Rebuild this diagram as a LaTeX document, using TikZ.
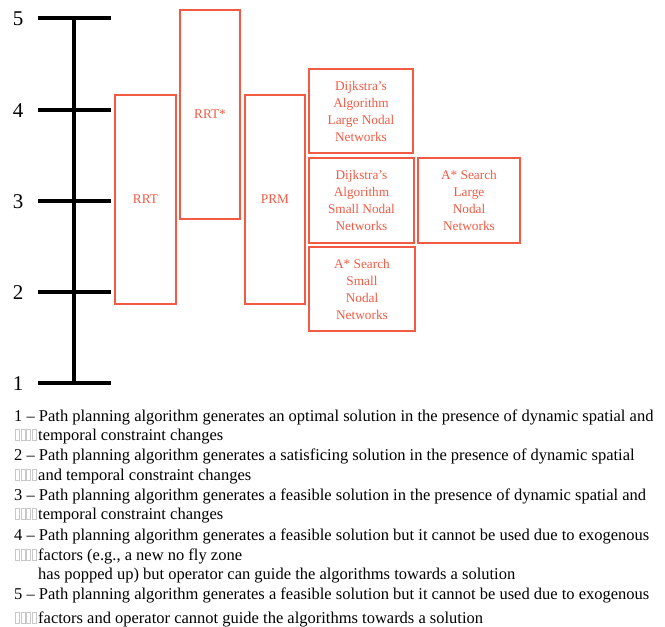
\documentclass[tikz,border=0pt]{standalone}
\usepackage{fontspec}
\setmainfont{Liberation Serif}
\begin{document}
\definecolor{algred}{RGB}{242,90,68}
\definecolor{tofu}{RGB}{200,200,200}
\tikzset{
  algbox/.style={draw=algred, line width=1.3pt, text=algred, align=center,
    inner sep=0pt, font=\fontsize{13.3}{17}\selectfont},
  axisline/.style={line width=3.6pt, black},
  levellabel/.style={font=\fontsize{21}{21}\selectfont, anchor=center},
  legend/.style={anchor=base west, inner sep=0pt, font=\fontsize{16.5}{18}\selectfont},
  tofubox/.style={draw=tofu, line width=0.5pt}
}
\begin{tikzpicture}[x=1pt, y=-1pt]
\useasboundingbox (0,0) rectangle (665,627);

% scale
\coordinate (top) at (74,18);
\coordinate (bot) at (74,383);
\draw[axisline] (top) -- (bot);
\foreach \lv/\yy in {5/18, 4/110, 3/201, 2/292, 1/383} {
  \coordinate (tl\lv) at (38,\yy);
  \coordinate (tr\lv) at (111,\yy);
  \draw[axisline] (tl\lv) -- (tr\lv);
  \node[levellabel] (lab\lv) at (18,\yy+1) {\lv};
}

% algorithm ranges
\node[algbox, minimum width=61pt, minimum height=209pt] (rrt) at (145.5,199.5) {RRT};
\node[algbox, minimum width=60pt, minimum height=209pt] (rrts) at (210,114.5) {RRT*};
\node[algbox, minimum width=60pt, minimum height=209pt] (prm) at (275,199.5) {PRM};
\node[algbox, minimum width=104pt, minimum height=84pt] (dl) at (361,111)
  {Dijkstra’s\\Algorithm\\Large Nodal\\Networks};
\node[algbox, minimum width=105pt, minimum height=85pt] (ds) at (361.5,200.5)
  {Dijkstra’s\\Algorithm\\Small Nodal\\Networks};
\node[algbox, minimum width=102pt, minimum height=85pt] (al) at (469,200.5)
  {A* Search\\Large\\Nodal\\Networks};
\node[algbox, minimum width=106pt, minimum height=84pt] (as) at (362,289)
  {A* Search\\Small\\Nodal\\Networks};

% legend
\node[legend] (l1) at (14,421) {1 – Path planning algorithm generates an optimal solution in the presence of dynamic spatial and};
\node[legend] (l1b) at (38,440) {temporal constraint changes};
\node[legend] (l2) at (14,460) {2 – Path planning algorithm generates a satisficing solution in the presence of dynamic spatial};
\node[legend] (l2b) at (38,480) {and temporal constraint changes};
\node[legend] (l3) at (14,500) {3 – Path planning algorithm generates a feasible solution in the presence of dynamic spatial and};
\node[legend] (l3b) at (38,519) {temporal constraint changes};
\node[legend] (l4) at (14,540) {4 – Path planning algorithm generates a feasible solution but it cannot be used due to exogenous};
\node[legend] (l4b) at (38,560) {factors (e.g., a new no fly zone};
\node[legend] (l4c) at (38,579) {has popped up) but operator can guide the algorithms towards a solution};
\node[legend] (l5) at (14,599) {5 – Path planning algorithm generates a feasible solution but it cannot be used due to exogenous};
\node[legend] (l5b) at (38,623) {factors and operator cannot guide the algorithms towards a solution};

% placeholder glyph boxes before the indented lines
\foreach \yy in {440,480,519,560,623} {
  \foreach \xx in {15.5,21,26.5,32} {
    \draw[tofubox] (\xx,\yy) rectangle ++(4.2,-11);
  }
}
\end{tikzpicture}
\end{document}
